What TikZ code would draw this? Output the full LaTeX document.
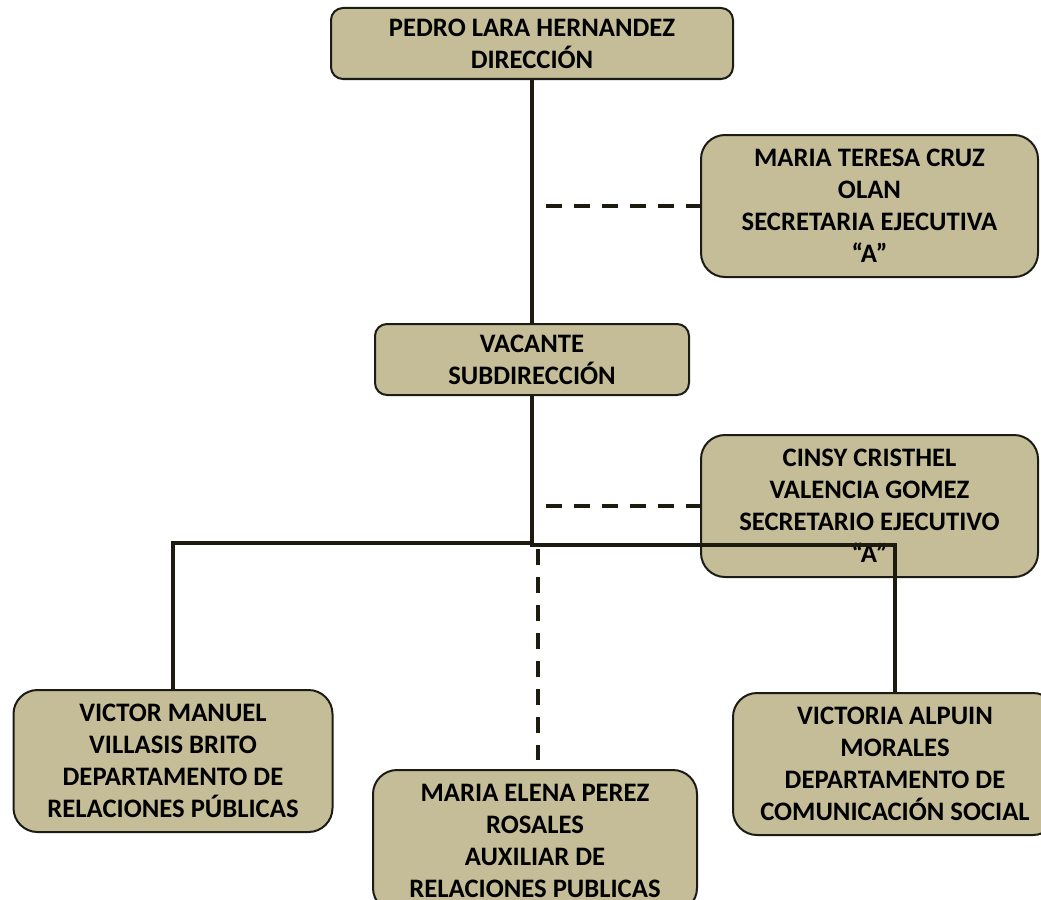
\documentclass[tikz,border=0pt]{standalone}
\usepackage{fontspec}
\setmainfont{Carlito}
\definecolor{boxfill}{HTML}{C4BD97}
\definecolor{bordercol}{HTML}{1C1C17}
\definecolor{linecol}{HTML}{1D1B10}
\begin{document}
\begin{tikzpicture}[x=0.75pt,y=-0.75pt,
  box/.style={draw=bordercol, line width=1.5pt, fill=boxfill, rounded corners=18pt,
    align=center, font=\bfseries\fontsize{20}{24}\selectfont, inner sep=0pt,
    minimum width=243pt, minimum height=106.5pt},
  smallbox/.style={box, rounded corners=9pt, minimum height=53.25pt},
  link/.style={draw=linecol, line width=2.6pt},
  dlink/.style={link, dash pattern=on 12pt off 9pt}]
\useasboundingbox (0,0) rectangle (1041,899);
\clip (0,0) rectangle (1041,899);
\fill[white] (0,0) rectangle (1041,899);

\node[smallbox, minimum width=301.5pt] (dir) at (532,43.5) {PEDRO LARA HERNANDEZ\\DIRECCIÓN};
\node[box, minimum width=252.75pt] (sec) at (869.5,206) {MARIA TERESA CRUZ\\OLAN\\SECRETARIA EJECUTIVA\\“A”};
\node[smallbox, minimum width=235.5pt] (sub) at (532,359.5) {VACANTE\\SUBDIRECCIÓN};
\node[box, minimum width=252.75pt] (cin) at (869.5,506) {CINSY CRISTHEL\\VALENCIA GOMEZ\\SECRETARIO EJECUTIVO\\“A”};
\node[box, minimum width=239.25pt] (vic) at (173,761) {VICTOR MANUEL\\VILLASIS BRITO\\DEPARTAMENTO DE\\RELACIONES PÚBLICAS};
\node[box] (mar) at (535,841) {MARIA ELENA PEREZ\\ROSALES\\AUXILIAR DE\\RELACIONES PUBLICAS};
\node[box] (vmo) at (895,764) {VICTORIA ALPUIN\\MORALES\\DEPARTAMENTO DE\\COMUNICACIÓN SOCIAL};

\coordinate (d1) at (546,206);
\coordinate (d2) at (546,506);
\coordinate (jl) at (532,543);
\coordinate (jr) at (530,545);
\coordinate (vs) at (538,549);
\coordinate (ve) at (538,760);

\draw[link] (dir.south) -- (sub.north);
\draw[dlink] (d1) -- (sec.west);
\draw[link] (sub.south) -- (532,546);
\draw[dlink] (d2) -- (cin.west);
\draw[link] (jl) -| (vic.north);
\draw[link] (jr) -| (vmo.north);
\draw[dlink] (vs) -- (ve);
\end{tikzpicture}
\end{document}
